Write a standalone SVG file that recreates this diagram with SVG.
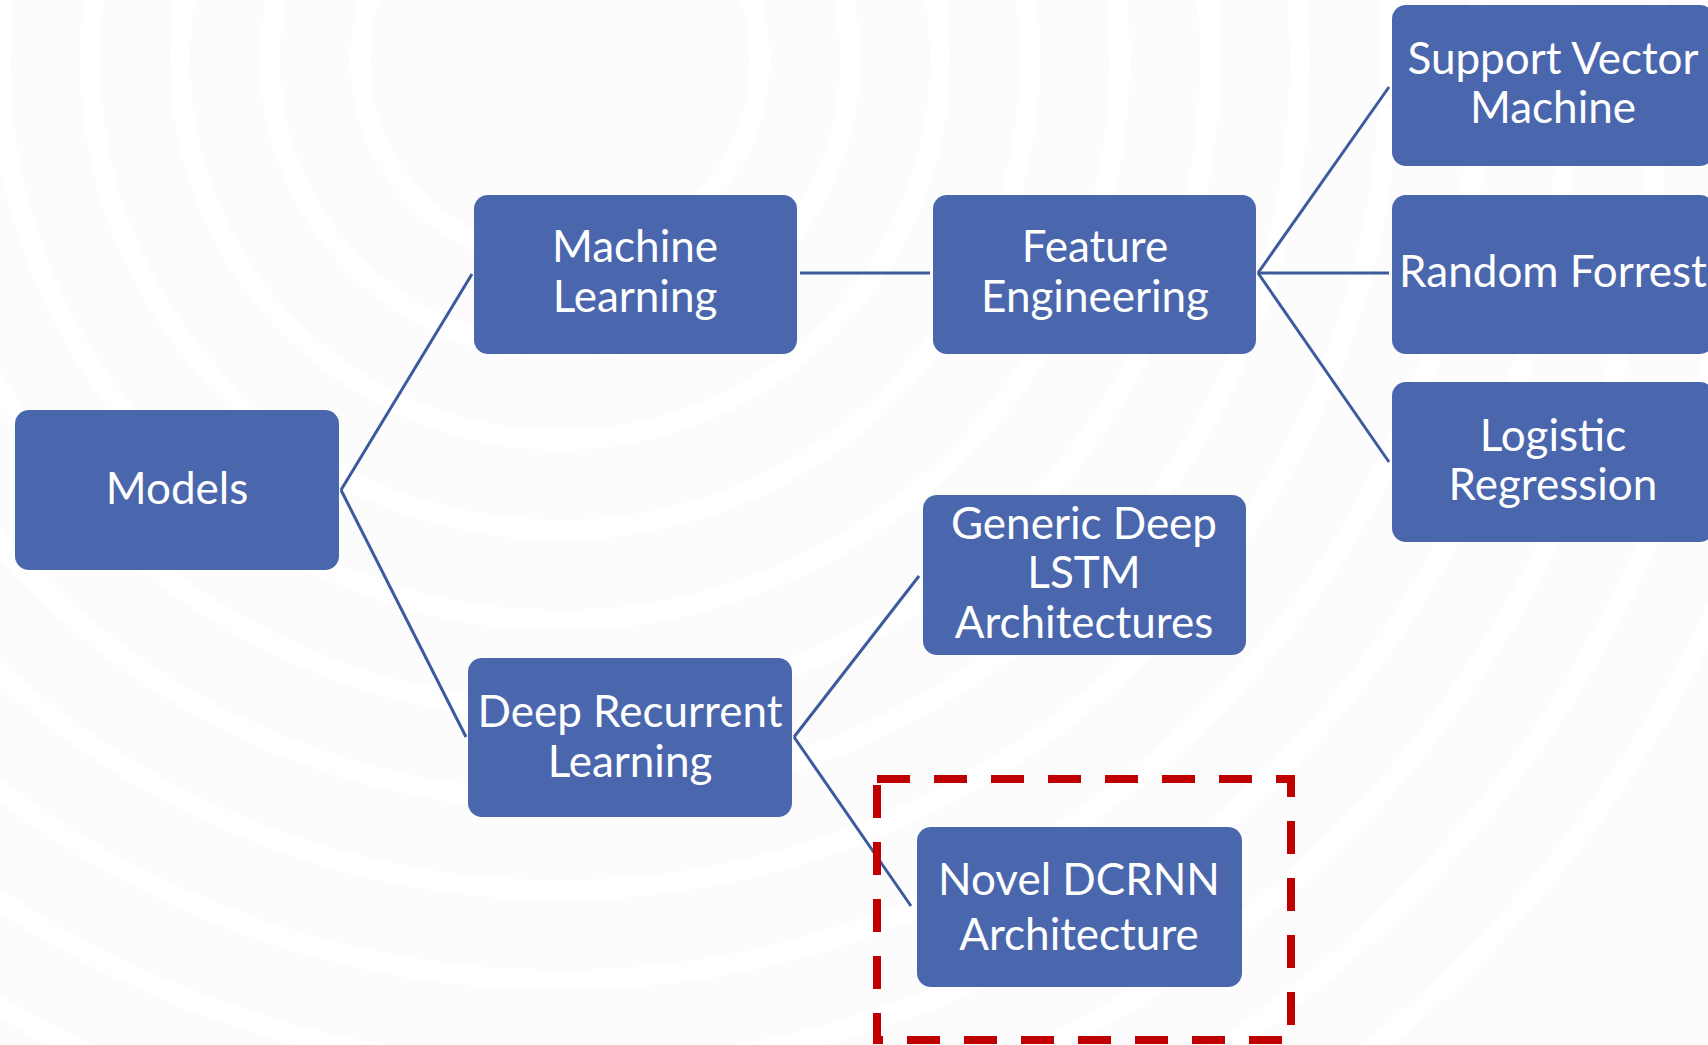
<svg xmlns="http://www.w3.org/2000/svg" width="1708" height="1045" viewBox="0 0 1708 1045">
  <style>
    .box { fill: #4A67AD; }
    .lbl { fill: #FFFFFF; font-family: Lato, "Open Sans", "Liberation Sans", sans-serif; font-size: 44px; text-anchor: middle; }
    .link { stroke: #3C5A9C; stroke-width: 3; fill: none; }
    .ring { fill: none; stroke: #FFFFFF; stroke-width: 20; }
  </style>

  <!-- page background with soft concentric bands -->
  <rect x="0" y="0" width="1708" height="1045" fill="#FCFCFC"/>
  <g id="background-rings">
    <circle class="ring" cx="560" cy="60" r="200"/>
    <circle class="ring" cx="560" cy="60" r="290"/>
    <circle class="ring" cx="560" cy="60" r="380"/>
    <circle class="ring" cx="560" cy="60" r="470"/>
    <circle class="ring" cx="560" cy="60" r="560"/>
    <circle class="ring" cx="560" cy="60" r="650"/>
    <circle class="ring" cx="560" cy="60" r="740"/>
    <circle class="ring" cx="560" cy="60" r="830"/>
    <circle class="ring" cx="560" cy="60" r="920"/>
    <circle class="ring" cx="560" cy="60" r="1010"/>
    <circle class="ring" cx="560" cy="60" r="1100"/>
    <circle class="ring" cx="560" cy="60" r="1190"/>
    <circle class="ring" cx="560" cy="60" r="1280"/>
  </g>

  <!-- tree connectors -->
  <g id="connectors">
    <line class="link" x1="341" y1="490" x2="472" y2="274"/>
    <line class="link" x1="341" y1="490" x2="466" y2="737"/>
    <line class="link" x1="800" y1="273" x2="930" y2="273"/>
    <line class="link" x1="1258" y1="273" x2="1389" y2="87"/>
    <line class="link" x1="1258" y1="273" x2="1389" y2="273"/>
    <line class="link" x1="1258" y1="273" x2="1389" y2="462"/>
    <line class="link" x1="794" y1="737" x2="919" y2="576"/>
    <line class="link" x1="794" y1="737" x2="911" y2="906"/>
  </g>

  <g id="node-models">
    <rect class="box" x="15" y="410" width="324" height="160" rx="14"/>
    <text class="lbl" x="177" y="504">Models</text>
  </g>

  <g id="node-machine-learning">
    <rect class="box" x="474" y="195" width="323" height="159" rx="14"/>
    <text class="lbl" x="635" y="262">Machine</text>
    <text class="lbl" x="635" y="312">Learning</text>
  </g>

  <g id="node-feature-engineering">
    <rect class="box" x="933" y="195" width="323" height="159" rx="14"/>
    <text class="lbl" x="1095" y="262">Feature</text>
    <text class="lbl" x="1095" y="312">Engineering</text>
  </g>

  <g id="node-svm">
    <rect class="box" x="1392" y="5" width="322" height="161" rx="14"/>
    <text class="lbl" x="1553" y="74">Support Vector</text>
    <text class="lbl" x="1553" y="123">Machine</text>
  </g>

  <g id="node-random-forrest">
    <rect class="box" x="1392" y="195" width="322" height="159" rx="14"/>
    <text class="lbl" x="1553" y="287">Random Forrest</text>
  </g>

  <g id="node-logistic-regression">
    <rect class="box" x="1392" y="382" width="322" height="160" rx="14"/>
    <text class="lbl" x="1553" y="451">Logistic</text>
    <text class="lbl" x="1553" y="500">Regression</text>
  </g>

  <g id="node-generic-lstm">
    <rect class="box" x="923" y="495" width="323" height="160" rx="14"/>
    <text class="lbl" x="1084" y="539">Generic Deep</text>
    <text class="lbl" x="1084" y="588">LSTM</text>
    <text class="lbl" x="1084" y="638">Architectures</text>
  </g>

  <g id="node-deep-recurrent">
    <rect class="box" x="468" y="658" width="324" height="159" rx="14"/>
    <text class="lbl" x="630" y="727">Deep Recurrent</text>
    <text class="lbl" x="630" y="777">Learning</text>
  </g>

  <g id="node-novel-dcrnn">
    <rect class="box" x="917" y="827" width="325" height="160" rx="14"/>
    <text class="lbl" x="1079" y="895">Novel DCRNN</text>
    <text class="lbl" x="1079" y="950">Architecture</text>
  </g>

  <!-- highlight frame around the new architecture -->
  <rect id="highlight" x="877" y="779" width="414" height="261" fill="none" stroke="#C00000" stroke-width="8" stroke-dasharray="33 24"/>
</svg>
